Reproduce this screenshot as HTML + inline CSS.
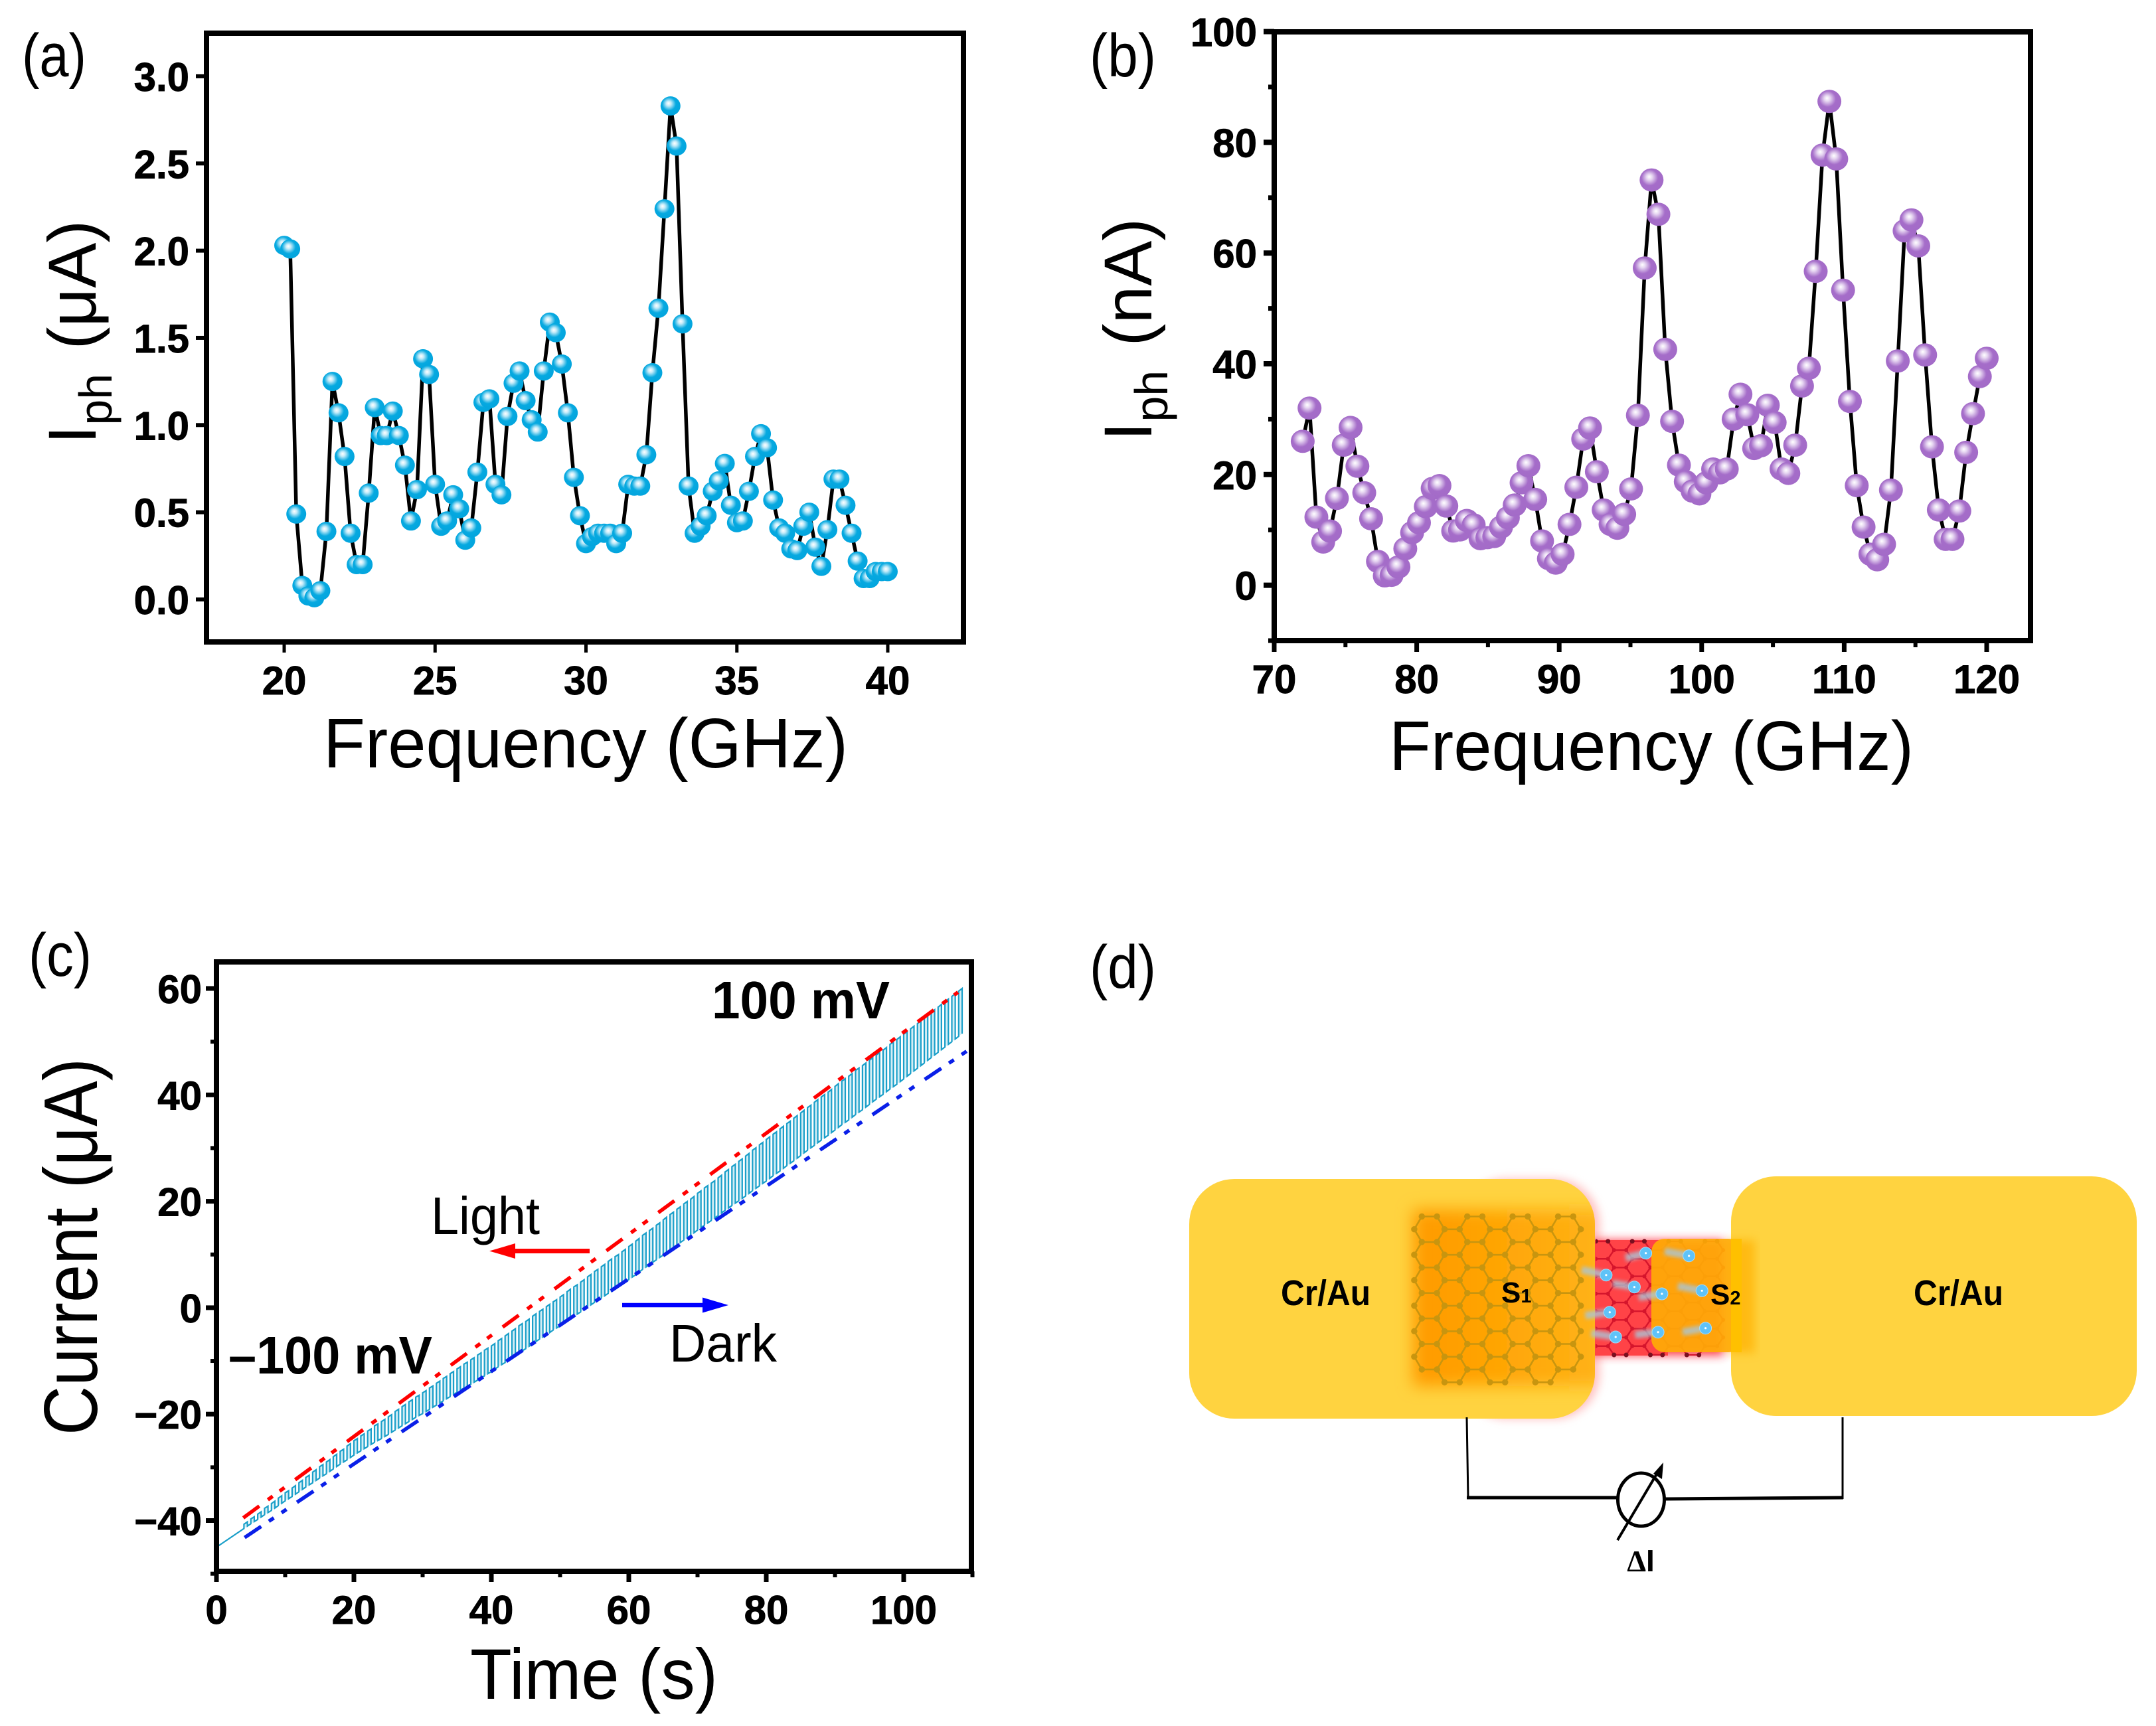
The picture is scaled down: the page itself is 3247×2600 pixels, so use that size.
<!DOCTYPE html>
<html lang="en">
<head>
<meta charset="utf-8">
<title>Photocurrent figure</title>
<style>
html,body{margin:0;padding:0;background:#fff;}
svg{display:block;font-family:"Liberation Sans",sans-serif;}
text{fill:#000;}
.tick{font-weight:700;font-size:60px;stroke:#000;stroke-width:0.9px;}
.title{font-size:106px;}
.panel{font-size:92px;}
</style>
</head>
<body>
<svg id="figure" xmlns="http://www.w3.org/2000/svg" width="3247" height="2600" viewBox="0 0 3247 2600">
<defs>
<radialGradient id="ballBlue" cx="0.44" cy="0.42" r="0.56" fx="0.4" fy="0.36">
<stop offset="0" stop-color="#ffffff"/><stop offset="0.22" stop-color="#c4ebf9"/><stop offset="0.62" stop-color="#06a9e0"/><stop offset="1" stop-color="#03a5de"/>
</radialGradient>
<radialGradient id="ballPurple" cx="0.44" cy="0.42" r="0.56" fx="0.4" fy="0.36">
<stop offset="0" stop-color="#ffffff"/><stop offset="0.22" stop-color="#e6d6f1"/><stop offset="0.62" stop-color="#a56dc9"/><stop offset="1" stop-color="#a36bc8"/>
</radialGradient>
<linearGradient id="s1Fill" x1="0" x2="1" y1="0" y2="0">
<stop offset="0" stop-color="#ff9a00"/><stop offset="0.6" stop-color="#ffa908"/><stop offset="1" stop-color="#ffb31a"/>
</linearGradient>
<filter id="blur12" x="-20%" y="-20%" width="140%" height="140%"><feGaussianBlur stdDeviation="12"/></filter>
<filter id="blur7" x="-20%" y="-20%" width="140%" height="140%"><feGaussianBlur stdDeviation="7"/></filter>
<filter id="blur3" x="-40%" y="-200%" width="180%" height="500%"><feGaussianBlur stdDeviation="3"/></filter>
<clipPath id="leftPadClip"><rect x="1791" y="1776" width="611" height="361" rx="68" ry="68"/></clipPath>
<clipPath id="redClip"><rect x="2403" y="1850" width="200" height="210"/></clipPath>
</defs>

<text class="panel" x="33" y="115" textLength="97" lengthAdjust="spacingAndGlyphs">(a)</text>
<text class="panel" x="1641" y="115" textLength="100" lengthAdjust="spacingAndGlyphs">(b)</text>
<text class="panel" x="43" y="1470" textLength="95" lengthAdjust="spacingAndGlyphs">(c)</text>
<text class="panel" x="1641" y="1488" textLength="100" lengthAdjust="spacingAndGlyphs">(d)</text>

<g id="chartA"></g>
<g id="chartB"></g>
<g id="chartC"></g>

<text class="title" x="487" y="1156" textLength="790" lengthAdjust="spacingAndGlyphs">Frequency (GHz)</text>
<text class="title" x="2092" y="1160" textLength="790" lengthAdjust="spacingAndGlyphs">Frequency (GHz)</text>
<text class="title" x="708" y="2559" textLength="373" lengthAdjust="spacingAndGlyphs" style="font-size:108px">Time (s)</text>

<text class="title" transform="translate(144,669) rotate(-90)" style="font-size:102px">I<tspan font-size="70" dy="24">ph</tspan><tspan dy="-24" dx="8"> (μA)</tspan></text>
<text class="title" transform="translate(1734,664) rotate(-90)" style="font-size:102px">I<tspan font-size="70" dy="24">ph</tspan><tspan dy="-24" dx="8"> (nA)</tspan></text>
<text class="title" transform="translate(146,2162) rotate(-90)" textLength="568" lengthAdjust="spacingAndGlyphs" style="font-size:114px">Current (μA)</text>

<text x="1072" y="1534" textLength="268" lengthAdjust="spacingAndGlyphs" style="font-size:80px;font-weight:700">100 mV</text>
<text x="344" y="2069" textLength="307" lengthAdjust="spacingAndGlyphs" style="font-size:80px;font-weight:700">–100 mV</text>
<text x="649" y="1859" textLength="164" lengthAdjust="spacingAndGlyphs" style="font-size:80px">Light</text>
<text x="1008" y="2051" textLength="162" lengthAdjust="spacingAndGlyphs" style="font-size:80px">Dark</text>
<g><line x1="888" y1="1884.5" x2="770" y2="1884.5" stroke="#f00" stroke-width="7"/><polygon points="737,1884.5 776,1873 776,1896" fill="#f00"/></g>
<g><line x1="937" y1="1966" x2="1065" y2="1966" stroke="#00f" stroke-width="6.5"/><polygon points="1097,1966 1058,1954.5 1058,1977.5" fill="#00f"/></g>

<g id="device">
<rect x="2200" y="1776" width="209" height="361" rx="68" ry="68" fill="#ff8a8a" opacity="0.55" filter="url(#blur7)"/>
<rect x="2396" y="1868" width="200" height="174" fill="#ff2a3a" opacity="0.9" filter="url(#blur7)"/>
<rect x="1791" y="1776" width="611" height="361" rx="68" ry="68" fill="#ffd340"/>
<g clip-path="url(#leftPadClip)">
<rect x="2128" y="1822" width="290" height="266" fill="url(#s1Fill)" filter="url(#blur12)"/>
<path id="s1Edges" fill="none" stroke="#c8950f" stroke-width="2.6"/>
<path id="s1Nodes" fill="none" stroke="#c8950f" stroke-width="9.5" stroke-linecap="round"/>
</g>
<rect x="2402" y="1868" width="110" height="174" fill="#ff4347"/>
<g clip-path="url(#redClip)">
<path id="redEdges" fill="none" stroke="#d5152c" stroke-width="2.4"/>
<path id="redNodes" fill="none" stroke="#d5152c" stroke-width="6" stroke-linecap="round"/>
<path id="redEndNodes" fill="none" stroke="#7a1020" stroke-width="7" stroke-linecap="round"/>
</g>
<rect x="2607" y="1772" width="611" height="361" rx="68" ry="68" fill="#ffd340"/>
<rect x="2603" y="1868" width="40" height="170" fill="#ffb000" opacity="0.7" filter="url(#blur7)"/>
<rect x="2487" y="1866" width="136" height="171" rx="20" ry="20" fill="#ffab05" opacity="0.92"/>
<rect x="2607" y="1866" width="16" height="171" fill="#ffc000"/>
<g id="electrons"></g>
<text x="1929" y="1966" textLength="135" lengthAdjust="spacingAndGlyphs" style="font-size:54px;font-weight:700">Cr/Au</text>
<text x="2882" y="1966" textLength="135" lengthAdjust="spacingAndGlyphs" style="font-size:54px;font-weight:700">Cr/Au</text>
<text x="2261" y="1962" style="font-size:44px;font-weight:700">S<tspan font-size="29">1</tspan></text>
<text x="2576" y="1965" style="font-size:44px;font-weight:700">S<tspan font-size="29">2</tspan></text>
<g fill="none" stroke="#000">
<path d="M2209 2135 L2211 2256" stroke-width="3"/>
<path d="M2209 2256 L2436 2256" stroke-width="5"/>
<path d="M2507 2258 L2776 2256" stroke-width="5"/>
<path d="M2775 2135 L2775 2258" stroke-width="3"/>
<ellipse cx="2471.5" cy="2259" rx="35" ry="40" stroke-width="5"/>
<line x1="2436" y1="2320" x2="2500" y2="2212" stroke-width="4"/>
<polygon points="2505,2203 2503,2228 2490,2220" fill="#000" stroke="none"/>
</g>
<text x="2471" y="2367" text-anchor="middle" style="font-size:46px;font-family:'Liberation Serif',serif;font-weight:700">Δ<tspan style="font-family:'Liberation Sans',sans-serif">I</tspan></text>
</g>
</svg>

<script>
const aFrequency=[20.0,20.2,20.4,20.6,20.8,21.0,21.2,21.4,21.6,21.8,22.0,22.2,22.4,22.6,22.8,23.0,23.2,23.4,23.6,23.8,24.0,24.2,24.4,24.6,24.8,25.0,25.2,25.4,25.6,25.8,26.0,26.2,26.4,26.6,26.8,27.0,27.2,27.4,27.6,27.8,28.0,28.2,28.4,28.6,28.8,29.0,29.2,29.4,29.6,29.8,30.0,30.2,30.4,30.6,30.8,31.0,31.2,31.4,31.6,31.8,32.0,32.2,32.4,32.6,32.8,33.0,33.2,33.4,33.6,33.8,34.0,34.2,34.4,34.6,34.8,35.0,35.2,35.4,35.6,35.8,36.0,36.2,36.4,36.6,36.8,37.0,37.2,37.4,37.6,37.8,38.0,38.2,38.4,38.6,38.8,39.0,39.2,39.4,39.6,39.8,40.0];
const aCurrent=[2.03,2.01,0.49,0.08,0.02,0.01,0.05,0.39,1.25,1.07,0.82,0.38,0.2,0.2,0.61,1.1,0.94,0.94,1.08,0.94,0.77,0.45,0.63,1.38,1.29,0.66,0.42,0.45,0.6,0.52,0.34,0.41,0.73,1.13,1.15,0.66,0.6,1.05,1.24,1.31,1.14,1.03,0.96,1.31,1.59,1.53,1.35,1.07,0.7,0.48,0.32,0.36,0.38,0.38,0.38,0.32,0.38,0.66,0.65,0.65,0.83,1.3,1.67,2.24,2.83,2.6,1.58,0.65,0.38,0.42,0.48,0.62,0.68,0.78,0.54,0.44,0.45,0.62,0.82,0.95,0.87,0.57,0.41,0.38,0.29,0.28,0.42,0.5,0.3,0.19,0.4,0.69,0.69,0.54,0.38,0.22,0.12,0.12,0.16,0.16,0.16];
const aXTicks=[20,25,30,35,40];
const aXLabels=["20","25","30","35","40"];
const aYTicks=[0,0.5,1,1.5,2,2.5,3];
const aYLabels=["0.0","0.5","1.0","1.5","2.0","2.5","3.0"];

const bFrequency=[72,72.48,72.96,73.44,73.92,74.4,74.88,75.36,75.84,76.32,76.8,77.28,77.76,78.24,78.72,79.2,79.68,80.16,80.64,81.12,81.6,82.08,82.56,83.04,83.52,84,84.48,84.96,85.44,85.92,86.4,86.88,87.36,87.84,88.32,88.8,89.28,89.76,90.24,90.72,91.2,91.68,92.16,92.64,93.12,93.6,94.08,94.56,95.04,95.52,96,96.48,96.96,97.44,97.92,98.4,98.88,99.36,99.84,100.32,100.8,101.28,101.76,102.24,102.72,103.2,103.68,104.16,104.64,105.12,105.6,106.08,106.56,107.04,107.52,108,108.48,108.96,109.44,109.92,110.4,110.88,111.36,111.84,112.32,112.8,113.28,113.76,114.24,114.72,115.2,115.68,116.16,116.64,117.12,117.6,118.08,118.56,119.04,119.52,120];
const bCurrent=[26,32,12.3,7.8,9.8,15.7,25.3,28.5,21.5,16.7,12,4.3,1.7,1.8,3.3,6.6,9.5,11.3,14.2,17.5,18,14.3,9.8,10,11.7,10.9,8.4,8.6,8.8,10.5,12.2,14.5,18.5,21.6,15.5,8,4.8,4,5.6,11,17.7,26.4,28.4,20.5,13.6,11,10.3,12.8,17.4,30.7,57.3,73.2,67,42.6,29.6,21.7,18.7,17,16.5,18.5,21,20.3,21,30,34.5,30.8,24.7,25.2,32.5,29.4,21,20.2,25.3,36,39.2,56.7,77.7,87.4,77,53.3,33.2,18,10.5,5.6,4.6,7.4,17.2,40.5,64,66,61.3,41.6,25,13.6,8.3,8.3,13.4,24,31,37.7,41];
const bXTicks=[70,80,90,100,110,120];
const bXLabels=["70","80","90","100","110","120"];
const bXMinor=[75,85,95,105,115];
const bYTicks=[0,20,40,60,80,100];
const bYLabels=["0","20","40","60","80","100"];
const bYMinor=[-10,10,30,50,70,90];

const cLeadTime=[0,4];
const cLeadCurrent=[-45,-41.5];
const cTime=[4,5,6,7,8,9,10,11,12,13,14,15,16,17,18,19,20,21,22,23,24,25,26,27,28,29,30,31,32,33,34,35,36,37,38,39,40,41,42,43,44,45,46,47,48,49,50,51,52,53,54,55,56,57,58,59,60,61,62,63,64,65,66,67,68,69,70,71,72,73,74,75,76,77,78,79,80,81,82,83,84,85,86,87,88,89,90,91,92,93,94,95,96,97,98,99,100,101,102,103,104,105,106,107,108,109];
const cDark=[-41.5,-40.6,-39.8,-38.9,-38.1,-37.2,-36.3,-35.5,-34.6,-33.7,-32.9,-32,-31.2,-30.3,-29.4,-28.6,-27.7,-26.9,-26.1,-25.3,-24.6,-23.8,-23,-22.2,-21.4,-20.6,-19.9,-19.1,-18.3,-17.5,-16.7,-15.9,-15.1,-14.4,-13.6,-12.8,-12,-11.1,-10.3,-9.4,-8.5,-7.7,-6.8,-5.9,-5.1,-4.2,-3.4,-2.5,-1.6,-0.8,0.1,1,1.8,2.7,3.6,4.4,5.3,6.2,7.2,8.1,9,9.9,10.9,11.8,12.7,13.6,14.6,15.5,16.4,17.3,18.3,19.2,20.1,21,22,22.9,23.8,24.8,25.7,26.7,27.6,28.6,29.6,30.5,31.5,32.4,33.4,34.4,35.3,36.3,37.2,38.2,39.2,40.1,41.1,42,43,44,45,46,47,48,49,50,51,52];
const cPhoto=[0.8,0.9,1,1.2,1.3,1.4,1.5,1.6,1.7,1.8,2,2.1,2.2,2.3,2.4,2.6,2.7,2.8,2.9,3.1,3.2,3.3,3.5,3.6,3.7,3.8,3.9,4,4.1,4.2,4.3,4.4,4.5,4.6,4.7,4.8,4.8,4.9,5,5,5.1,5.1,5.2,5.2,5.3,5.3,5.4,5.5,5.5,5.6,5.7,5.8,5.9,6,6,6.1,6.2,6.3,6.4,6.4,6.5,6.6,6.6,6.7,6.8,6.8,6.9,7,7,7.1,7.2,7.3,7.4,7.5,7.6,7.7,7.8,7.8,7.9,7.9,8,8,8,8.1,8.1,8.1,8.2,8.2,8.2,8.3,8.3,8.3,8.3,8.3,8.4,8.4,8.4,8.4,8.4,8.4,8.5,8.5,8.5,8.5,8.5,0];
const cLightGuideTime=[3.9,107.9];
const cLightGuideCurrent=[-39.5,59.3];
const cDarkGuideTime=[4.1,109.5];
const cDarkGuideCurrent=[-43.2,48.5];
const cXTicks=[0,20,40,60,80,100];
const cXLabels=["0","20","40","60","80","100"];
const cXMinor=[10,30,50,70,90,110];
const cYTicks=[-40,-20,0,20,40,60];
const cYLabels=["−40","−20","0","20","40","60"];
const cYMinor=[-50,-30,-10,10,30,50];

const SVGNS="http://www.w3.org/2000/svg";
function make(tag,parent,attrs){
  const el=document.createElementNS(SVGNS,tag);
  for(const k in attrs){el.setAttribute(k,attrs[k]);}
  parent.appendChild(el);
  return el;
}

const xA=function(v){return 428+(v-20)*45.45;};
const yA=function(v){return 903-v*262.7;};
const xB=function(v){return 1919+(v-70)*21.46;};
const yB=function(v){return 881.6-v*8.34;};
const xC=function(v){return 326+v*10.35;};
const yC=function(v){return 2290.5-(v+40)*8.015;};

function drawFrame(g,left,top,right,bottom,sw){
  const r=make('rect',g,{x:left,y:top,width:right-left,height:bottom-top,fill:'none',stroke:'#000','stroke-width':sw});
  
  
}
function drawXTicks(g,vals,labels,sx,axisY,len,sw,labelY){
  vals.forEach(function(v,i){
    const t=make('line',g,{x1:sx(v),x2:sx(v),y1:axisY,y2:axisY+len,stroke:'#000','stroke-width':sw});
    
    
    if(labels){
      const l=make('text',g,{x:sx(v),y:labelY,'text-anchor':'middle','class':'tick'});
      l.textContent=labels[i];
      
      
    }
  });
}
function drawYTicks(g,vals,labels,sy,axisX,len,sw,labelX){
  vals.forEach(function(v,i){
    const t=make('line',g,{x1:axisX,x2:axisX-len,y1:sy(v),y2:sy(v),stroke:'#000','stroke-width':sw});
    
    
    if(labels){
      const l=make('text',g,{x:labelX,y:sy(v)+22,'text-anchor':'end','class':'tick'});
      l.textContent=labels[i];
      
      
    }
  });
}
function drawSeries(g,xs,ys,sx,sy,lineWidth,rx,ry,grad){
  let d='';
  xs.forEach(function(v,i){d+=(i?'L':'M')+sx(v).toFixed(1)+' '+sy(ys[i]).toFixed(1);});
  const p=make('path',g,{d:d,fill:'none',stroke:'#000','stroke-width':lineWidth,'stroke-linejoin':'round'});
  
  
  xs.forEach(function(v,i){
    const m=make('ellipse',g,{cx:sx(v).toFixed(1),cy:sy(ys[i]).toFixed(1),rx:rx,ry:ry,fill:'url(#'+grad+')'});
    
    
  });
}

/* panel a */
(function(){
  const g=document.getElementById('chartA');
  drawYTicks(g,aYTicks,aYLabels,yA,311,16,6,285);
  drawXTicks(g,aXTicks,aXLabels,xA,968,15,5,1046);
  drawSeries(g,aFrequency,aCurrent,xA,yA,5.5,15,14.5,'ballBlue');
  drawFrame(g,311,50,1451,967,8);
})();

/* panel b */
(function(){
  const g=document.getElementById('chartB');
  drawYTicks(g,bYTicks,bYLabels,yB,1919,16,8,1893);
  drawYTicks(g,bYMinor,null,yB,1919,9,7,0);
  drawXTicks(g,bXTicks,bXLabels,xB,966,16,7,1044);
  drawXTicks(g,bXMinor,null,xB,966,9,6,0);
  drawSeries(g,bFrequency,bCurrent,xB,yB,5.5,18,17.5,'ballPurple');
  drawFrame(g,1919,48,3058,965,8);
})();

/* panel c */
(function(){
  const g=document.getElementById('chartC');
  drawYTicks(g,cYTicks,cYLabels,yC,326,16,7,304);
  drawYTicks(g,cYMinor,null,yC,326,9,6,0);
  drawXTicks(g,cXTicks,cXLabels,xC,2367,16,7,2446);
  drawXTicks(g,cXMinor,null,xC,2367,9,6,0);
  let trace='M'+xC(cLeadTime[0]).toFixed(1)+' '+yC(cLeadCurrent[0]).toFixed(1)+'L'+xC(cLeadTime[1]).toFixed(1)+' '+yC(cLeadCurrent[1]).toFixed(1);
  let band='';
  for(let i=0;i<cTime.length-1;i++){
    const tMid=(cTime[i]+cTime[i+1])/2;
    const lowMid=(cDark[i]+cDark[i+1])/2;
    const seg=[
      [cTime[i],cDark[i]],
      [cTime[i],cDark[i]+cPhoto[i]],
      [tMid,lowMid+cPhoto[i]],
      [tMid,lowMid]
    ];
    seg.forEach(function(s){trace+='L'+xC(s[0]).toFixed(1)+' '+yC(s[1]).toFixed(1);});
    band+='M'+seg.map(function(s){return xC(s[0]).toFixed(1)+' '+yC(s[1]).toFixed(1);}).join('L')+'Z';
  }
  const f=make('path',g,{d:band,fill:'#a6dbec','fill-opacity':0.5,stroke:'none'});
  
  
  const p=make('path',g,{d:trace,fill:'none',stroke:'#1a9fc9','stroke-width':2.2,'stroke-linejoin':'miter'});
  
  
  const red=make('line',g,{x1:xC(cLightGuideTime[0]),y1:yC(cLightGuideCurrent[0]),x2:xC(cLightGuideTime[1]),y2:yC(cLightGuideCurrent[1]),stroke:'#f00','stroke-width':5.5,'stroke-dasharray':'30 16 9 13 9 20'});
  
  
  const blue=make('line',g,{x1:xC(cDarkGuideTime[0]),y1:yC(cDarkGuideCurrent[0]),x2:xC(cDarkGuideTime[1]),y2:yC(cDarkGuideCurrent[1]),stroke:'#0a1fe8','stroke-width':5.5,'stroke-dasharray':'30 14 9 14 9 19'});
  
  
  drawFrame(g,326,1449,1463,2367,8);
})();

/* lattices in the schematic */
function hexEdges(cx,cy,a,h){
  return 'M'+(cx-a)+' '+cy+'L'+(cx-a/2)+' '+(cy-h/2)+'L'+(cx+a/2)+' '+(cy-h/2)+'L'+(cx+a)+' '+cy+'L'+(cx+a/2)+' '+(cy+h/2)+'L'+(cx-a/2)+' '+(cy+h/2)+'Z';
}
function hexNodes(cx,cy,a,h){
  const pts=[[cx-a,cy],[cx-a/2,cy-h/2],[cx+a/2,cy-h/2],[cx+a,cy],[cx+a/2,cy+h/2],[cx-a/2,cy+h/2]];
  return pts.map(function(p){return 'M'+p[0].toFixed(1)+' '+p[1].toFixed(1)+'h0.01';}).join('');
}
function edgeNodes(cx,cy,a){
  return 'M'+(cx-a/2).toFixed(1)+' '+cy.toFixed(1)+'h0.01M'+(cx+a/2).toFixed(1)+' '+cy.toFixed(1)+'h0.01';
}
(function(){
  let e='',n='';
  for(let c=0;c<7;c++){
    const cx=2152.7+34.2*c;
    const y0=c%2?1871:1851.7;
    for(let k=0;k<6;k++){
      e+=hexEdges(cx,y0+38.4*k,22.8,38.4);
      n+=hexNodes(cx,y0+38.4*k,22.8,38.4);
    }
  }
  document.getElementById('s1Edges').setAttribute('d',e);
  document.getElementById('s1Nodes').setAttribute('d',n);
  let re='',rn='',rd='';
  for(let c=0;c<7;c++){
    const cx=2412.5+27.4*c;
    const y0=c%2?1896.3:1883.1;
    for(let k=0;k<6;k++){
      re+=hexEdges(cx,y0+26.3*k,18.3,26.3);
      rn+=hexNodes(cx,y0+26.3*k,18.3,26.3);
    }
    if(c%2){rd+=edgeNodes(cx,y0+26.3*5+13.15,18.3);}
    else{rd+=edgeNodes(cx,y0-13.15,18.3);}
  }
  document.getElementById('redEdges').setAttribute('d',re);
  document.getElementById('redNodes').setAttribute('d',rn);
  document.getElementById('redEndNodes').setAttribute('d',rd);
})();

/* electrons */
const electronHeadX=[2478.6,2543.6,2418.9,2461.4,2502.9,2563.2,2424.3,2433.2,2497.1,2568.6];
const electronHeadY=[1887.7,1891.7,1920.7,1938.7,1949,1944.3,1976.7,2014,2006.7,2000.7];
const electronTailX=[2448.2,2507.1,2382.1,2428.6,2467.9,2526.8,2387.5,2396.4,2462.5,2533.9];
const electronTailY=[1895,1885,1912.7,1933.3,1954,1937.3,1981.7,2008.3,2010.7,2006.7];
(function(){
  const g=document.getElementById('electrons');
  electronHeadX.forEach(function(hx,i){
    const tail=make('line',g,{x1:electronTailX[i],y1:electronTailY[i],x2:hx,y2:electronHeadY[i],stroke:'#a9c6d8','stroke-width':11,opacity:0.8,filter:'url(#blur3)'});
    
    
    const head=make('circle',g,{cx:hx,cy:electronHeadY[i],r:9,fill:'#5fc3f8',stroke:'#a8dcf8','stroke-width':1});
    
    
    const core=make('circle',g,{cx:hx,cy:electronHeadY[i],r:1.6,fill:'#fff'});
    
    
  });
})();
</script>
</body>
</html>
